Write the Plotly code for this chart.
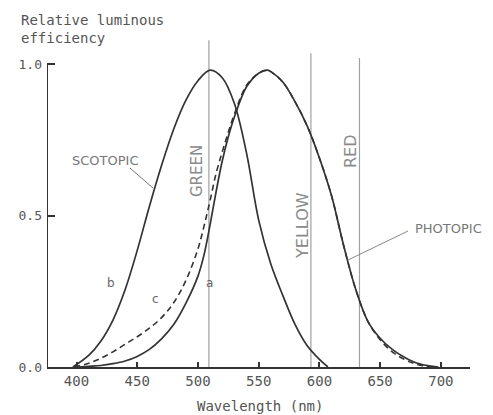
import plotly.graph_objects as go

# Scotopic curve (b)
scotopic_wl = [397, 410, 420, 430, 440, 450, 460, 470, 480, 490, 500, 510, 520, 530, 540, 550, 560, 570, 580, 590, 600, 607]
scotopic_v = [0.0, 0.038, 0.085, 0.155, 0.255, 0.385, 0.53, 0.665, 0.785, 0.88, 0.945, 0.98, 0.955, 0.87, 0.706, 0.485, 0.34, 0.235, 0.14, 0.07, 0.025, 0.0]

# Photopic curve (a), solid
photopic_wl = [402, 410, 420, 430, 440, 450, 460, 470, 480, 490, 500, 505, 510, 515, 520, 525, 530, 540, 550, 557, 560, 570, 580, 590, 600, 610, 620, 630, 640, 650, 660, 670, 680, 690, 698]
photopic_v = [0.0, 0.002, 0.005, 0.011, 0.02, 0.035, 0.058, 0.093, 0.14, 0.21, 0.30, 0.37, 0.47, 0.58, 0.68, 0.76, 0.825, 0.925, 0.97, 0.98, 0.975, 0.94, 0.875, 0.795, 0.69, 0.565, 0.40, 0.255, 0.15, 0.095, 0.058, 0.032, 0.013, 0.004, 0.0]

# Modified photopic curve (c), dashed
modified_wl = [398, 410, 420, 430, 440, 450, 460, 470, 480, 490, 500, 505, 510, 515, 520, 525, 530, 540, 550, 557, 560, 570, 580, 590, 600, 610, 620, 630, 640, 650, 660, 670, 680, 693]
modified_v = [0.0, 0.012, 0.029, 0.05, 0.075, 0.10, 0.128, 0.163, 0.212, 0.285, 0.39, 0.465, 0.55, 0.64, 0.71, 0.775, 0.835, 0.93, 0.97, 0.98, 0.975, 0.94, 0.875, 0.795, 0.69, 0.565, 0.40, 0.255, 0.15, 0.09, 0.05, 0.025, 0.009, 0.0]

# Colour reference lines
colour_names = ["GREEN", "YELLOW", "RED"]
colour_wl = [509, 593, 633]
colour_top = [1.079, 1.036, 1.02]

x_ticks = [400, 450, 500, 550, 600, 650, 700]
y_ticks = [0.0, 0.5, 1.0]
y_tick_labels = ["0.0", "0.5", "1.0"]

XMIN, XMAX = 375.7, 724
YMAX = 1.096
INK = "#333333"
GREY = "#a0a0a0"
TXT = "#555555"
MONO = "DejaVu Sans Mono, Liberation Mono, monospace"
HAND = "DejaVu Sans, sans-serif"

# screen-pixel helpers (page has 8px body margin)
PL, PR, PT, PB = 47, 470, 35, 367


def pxd(px, py):
    """screen pixel -> data coords"""
    return XMIN + (px - PL) / (PR - PL) * (XMAX - XMIN), (PB - py) / (PB - PT) * YMAX


def pxp(px, py):
    """screen pixel -> paper coords"""
    return (px - PL) / (PR - PL), (PB - py) / (PB - PT)


fig = go.Figure()

for wl, top in zip(colour_wl, colour_top):
    fig.add_trace(go.Scatter(x=[wl, wl], y=[0, top], mode="lines",
                             line=dict(color=GREY, width=1.2), hoverinfo="skip", showlegend=False))

fig.add_trace(go.Scatter(x=scotopic_wl, y=scotopic_v, mode="lines",
                         line=dict(color=INK, width=1.7, shape="spline", smoothing=1.0), showlegend=False))
fig.add_trace(go.Scatter(x=modified_wl, y=modified_v, mode="lines",
                         line=dict(color=INK, width=1.6, dash="6px,4px", shape="spline", smoothing=1.0), showlegend=False))
fig.add_trace(go.Scatter(x=photopic_wl, y=photopic_v, mode="lines",
                         line=dict(color=INK, width=1.7, shape="spline", smoothing=1.0), showlegend=False))

# y axis line (only up to 1.0)
fig.add_shape(type="line", xref="x", yref="y", x0=XMIN, x1=XMIN, y0=0, y1=1.0,
              line=dict(color=INK, width=2))

# colour labels (rotated), positions in screen pixels
label_px = {"GREEN": (197, 171, 15), "YELLOW": (302, 226, 16), "RED": (350, 151, 16)}
for name in colour_names:
    x, y, s = label_px[name]
    dx, dy = pxd(x, y)
    fig.add_annotation(x=dx, y=dy, xref="x", yref="y", text=name, showarrow=False,
                       textangle=-90, font=dict(family=HAND, size=s, color="#8a8a8a"))

# curve names with leader lines
sx, sy = pxd(105, 160)
fig.add_annotation(x=sx, y=sy, xref="x", yref="y", text="SCOTOPIC", showarrow=False,
                   font=dict(family=HAND, size=13, color="#777777"))
a0 = pxd(130, 168); a1 = pxd(153, 188)
fig.add_shape(type="line", xref="x", yref="y", x0=a0[0], y0=a0[1], x1=a1[0], y1=a1[1],
              line=dict(color="#777777", width=1))
qx, qy = pxd(448, 228)
fig.add_annotation(x=qx, y=qy, xref="x", yref="y", text="PHOTOPIC", showarrow=False,
                   font=dict(family=HAND, size=13, color="#777777"))
b0 = pxd(408, 231); b1 = pxd(348, 260)
fig.add_shape(type="line", xref="x", yref="y", x0=b0[0], y0=b0[1], x1=b1[0], y1=b1[1],
              line=dict(color="#888888", width=1))

for letter, (lx, ly) in {"b": (111, 283), "c": (155, 299), "a": (209, 283)}.items():
    dx, dy = pxd(lx, ly)
    fig.add_annotation(x=dx, y=dy, xref="x", yref="y", text=letter, showarrow=False,
                       font=dict(family=HAND, size=12, color="#666666"))

# titles
tx, ty = pxp(19, 10)
fig.add_annotation(x=tx, y=ty, xref="paper", yref="paper",
                   text="Relative luminous<br>efficiency", showarrow=False, align="left",
                   xanchor="left", yanchor="top",
                   font=dict(family=MONO, size=14, color=TXT))
wx, wy = pxp(260, 406)
fig.add_annotation(x=wx, y=wy, xref="paper", yref="paper",
                   text="Wavelength (nm)", showarrow=False, xanchor="center", yanchor="middle",
                   font=dict(family=MONO, size=14, color=TXT))

fig.update_layout(
    width=493 - 8, height=415 - 8,
    margin=dict(l=PL - 8, r=493 - PR, t=PT - 8, b=415 - PB),
    paper_bgcolor="white", plot_bgcolor="white",
    xaxis=dict(range=[XMIN, XMAX], tickvals=x_ticks, ticks="inside", ticklen=5,
               tickwidth=1.5, tickcolor=INK, showline=True, linecolor=INK, linewidth=2,
               showgrid=False, zeroline=False,
               tickfont=dict(family=MONO, size=14, color=TXT)),
    yaxis=dict(range=[0, YMAX], tickvals=y_ticks, ticktext=y_tick_labels, ticks="inside",
               ticklen=8, tickwidth=1.5, tickcolor=INK, showline=False, showgrid=False,
               zeroline=False, ticklabelstandoff=4,
               tickfont=dict(family=MONO, size=13, color=TXT)),
)

fig.write_html("out.html")
